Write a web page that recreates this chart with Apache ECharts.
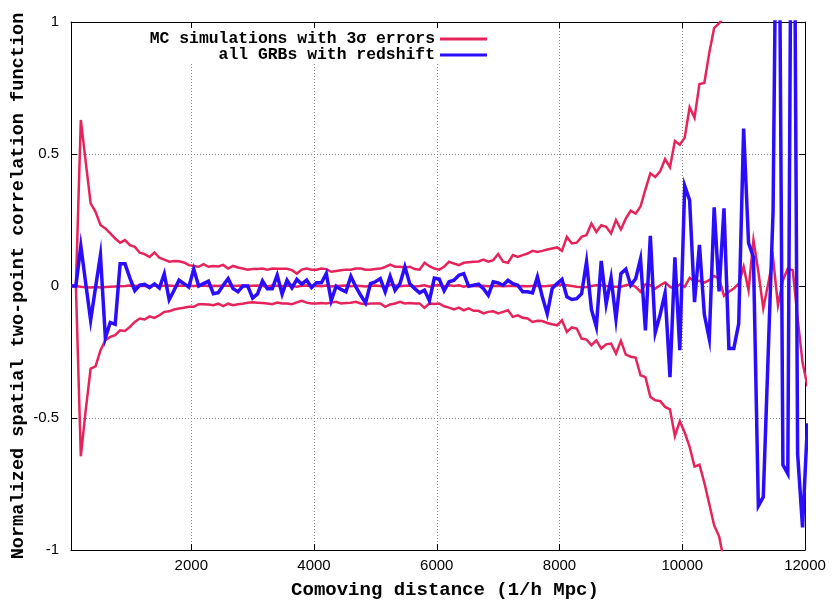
<!DOCTYPE html>
<html>
<head>
<meta charset="utf-8">
<title>two-point correlation function</title>
<script src="https://cdn.jsdelivr.net/npm/echarts@6.0.0/dist/echarts.min.js"></script>
<style>
  html, body { margin: 0; padding: 0; background: #fff; }
  #chart { width: 832px; height: 601px; }
</style>
</head>
<body>
<div id="chart"></div>
<script>
// bins: centre of first bin and bin width (1/h Mpc)
var binStart = 40;
var binWidth = 80;
var xTicks = [2000, 4000, 6000, 8000, 10000, 12000];

// MC simulations: mean, +3 sigma, -3 sigma
var mcMean = [
  0, 0, -0.003, -0.005, -0.006, -0.004, -0.006, -0.004, -0.003, -0.002,
  -0.001, 0, 0.002, 0.001, 0, 0.001, 0, 0.002, 0, 0.001,
  0.002, 0, 0.001, 0.002, 0.001, 0, 0.001, 0.002, 0, 0.001,
  0, 0.002, 0.001, 0, 0.001, 0.002, 0, 0.001, 0.002, 0,
  -0.002, 0.002, 0.001, -0.001, 0.002, 0, -0.003, 0.001, 0.002, 0,
  0.001, -0.001, 0.002, -0.002, 0, 0.001, 0.002, -0.001, 0.001, 0,
  -0.002, 0.001, 0.002, 0, -0.004, 0.005, 0.002, -0.001, 0.001, 0.002,
  -0.002, 0, 0.003, -0.003, 0.002, 0.003, -0.002, 0.003, 0, 0.003,
  -0.003, 0.002, 0, -0.001, 0.001, -0.001, 0, 0.001, -0.001, 0,
  0.001, -0.001, 0, -0.001, 0, 0.001, -0.001, 0, 0.002, 0.003,
  0.006, 0.003, 0, -0.003, -0.005, -0.004, 0, 0.003, 0.003, 0,
  -0.003, -0.003, -0.003, 0.003, 0.006, -0.003, -0.022, 0.006, 0.003, -0.010,
  0.003, 0.013, -0.003, -0.010, 0.006, -0.003, 0.031, 0.016, 0.02, 0.013,
  0.022, 0.038, 0.028, -0.037, -0.022, -0.010, 0.009, 0.073, -0.016, 0.174,
  0.054, -0.085, 0.009, 0.104, -0.073, 0.022, 0.066, 0.060, -0.123, -0.29,
  -0.38
];
var mcUpper = [
  0, 0, 0.629, 0.47, 0.313, 0.281, 0.231, 0.218, 0.199, 0.180,
  0.164, 0.174, 0.155, 0.148, 0.126, 0.121, 0.110, 0.127, 0.107, 0.100,
  0.092, 0.095, 0.094, 0.089, 0.079, 0.076, 0.073, 0.083, 0.073, 0.076,
  0.074, 0.080, 0.066, 0.076, 0.070, 0.066, 0.062, 0.064, 0.064, 0.066,
  0.062, 0.066, 0.065, 0.065, 0.065, 0.060, 0.047, 0.062, 0.066, 0.062,
  0.062, 0.066, 0.064, 0.054, 0.057, 0.060, 0.062, 0.062, 0.066, 0.066,
  0.062, 0.062, 0.064, 0.066, 0.072, 0.081, 0.073, 0.073, 0.070, 0.073,
  0.064, 0.062, 0.088, 0.075, 0.066, 0.062, 0.073, 0.092, 0.085, 0.079,
  0.088, 0.090, 0.092, 0.093, 0.100, 0.092, 0.098, 0.121, 0.092, 0.088,
  0.117, 0.110, 0.117, 0.123, 0.133, 0.129, 0.133, 0.138, 0.142, 0.146,
  0.133, 0.186, 0.161, 0.164, 0.186, 0.193, 0.237, 0.205, 0.230, 0.224,
  0.199, 0.250, 0.214, 0.255, 0.285, 0.274, 0.301, 0.366, 0.427, 0.413,
  0.434, 0.481, 0.450, 0.549, 0.535, 0.562, 0.677, 0.637, 0.765, 0.769,
  0.883, 0.978, 0.995, 1.02, 1.12
];
var mcLower = [
  0, 0, -0.645, -0.47, -0.313, -0.304, -0.244, -0.205, -0.193, -0.186,
  -0.168, -0.170, -0.155, -0.136, -0.123, -0.127, -0.115, -0.121, -0.111, -0.098,
  -0.096, -0.089, -0.085, -0.082, -0.079, -0.079, -0.069, -0.069, -0.070, -0.073,
  -0.067, -0.076, -0.067, -0.073, -0.069, -0.067, -0.063, -0.062, -0.063, -0.064,
  -0.066, -0.069, -0.063, -0.066, -0.066, -0.069, -0.062, -0.056, -0.063, -0.066,
  -0.066, -0.064, -0.066, -0.063, -0.060, -0.066, -0.064, -0.063, -0.060, -0.066,
  -0.069, -0.066, -0.066, -0.066, -0.079, -0.070, -0.066, -0.060, -0.066, -0.064,
  -0.066, -0.066, -0.083, -0.066, -0.068, -0.066, -0.077, -0.082, -0.089, -0.082,
  -0.092, -0.085, -0.094, -0.094, -0.104, -0.098, -0.096, -0.104, -0.098, -0.092,
  -0.117, -0.111, -0.120, -0.123, -0.136, -0.132, -0.133, -0.140, -0.145, -0.149,
  -0.130, -0.174, -0.157, -0.161, -0.199, -0.203, -0.224, -0.206, -0.237, -0.221,
  -0.218, -0.256, -0.208, -0.260, -0.268, -0.271, -0.338, -0.345, -0.420, -0.433,
  -0.436, -0.458, -0.467, -0.569, -0.512, -0.555, -0.609, -0.684, -0.677, -0.745,
  -0.826, -0.907, -0.948, -1.04, -1.12
];
// all GRBs with redshift
var grb = [
  0, 0, 0.152, 0.01, -0.13, -0.006, 0.117, -0.196, -0.138, -0.145,
  0.084, 0.084, 0.03, -0.018, 0.003, 0.006, -0.006, 0.008, -0.008, 0.046,
  -0.052, -0.016, 0.022, 0.009, -0.004, 0.064, 0.0, 0.009, 0.018, -0.029,
  -0.025, 0.003, 0.028, -0.010, -0.022, 0.0, 0.0, -0.046, -0.03, 0.019,
  -0.010, -0.010, 0.041, -0.031, 0.022, -0.007, 0.025, 0.007, 0.022, -0.006,
  0.012, 0.012, 0.047, -0.056, -0.001, -0.013, -0.022, 0.037, -0.003, -0.035,
  -0.064, 0.009, 0.016, 0.028, -0.022, 0.037, -0.016, 0.009, 0.073, 0.009,
  -0.010, -0.026, -0.016, -0.055, 0.030, 0.026, -0.018, 0.016, 0.022, 0.041,
  0.047, -0.001, 0.003, 0.007, -0.010, -0.035, 0.016, 0.012, 0.003, 0.022,
  0.009, 0.003, -0.022, -0.022, -0.026, 0.035, -0.041, -0.105, -0.010, 0.009,
  0.025, -0.041, -0.051, -0.048, -0.029, 0.092, -0.089, -0.155, 0.095, -0.068,
  0.031, -0.125, 0.047, 0.064, 0.003, 0.027, 0.103, -0.168, 0.190, -0.176,
  -0.108, -0.027, -0.345, 0.109, -0.243, 0.379, 0.325, -0.061, 0.156, -0.108,
  -0.200, 0.298, -0.020, 0.294, -0.237, -0.237, -0.142, 0.596, 0.163, 0.109,
  -0.833, -0.799, -0.26, 0.285, 2.2, -0.677, -0.711, 2.6, -0.636, -0.914,
  -0.52
];

var mcName = 'MC simulations with 3σ errors';
var grbName = 'all GRBs with redshift';

var red = '#e6235a';
var blue = '#2a0cff';
var mono = '"Liberation Mono", "DejaVu Sans Mono", monospace';
var sans = '"Liberation Sans", Arial, sans-serif';

function pairs(vals) {
  return vals.map(function (v, i) { return [binStart + binWidth * i, v]; });
}

function lineSeries(name, vals, color, width, z) {
  return {
    name: name,
    type: 'line',
    data: pairs(vals),
    symbol: 'none',
    showSymbol: false,
    xAxisIndex: 0,
    yAxisIndex: 0,
    lineStyle: { color: color, width: width, join: 'miter' },
    itemStyle: { color: color },
    z: z
  };
}

var gridLine = { show: true, lineStyle: { color: '#888', width: 1, type: [1, 2] } };
var border = { show: true, onZero: false, lineStyle: { color: '#000', width: 1 } };
var tick = { show: true, inside: true, length: 6, lineStyle: { color: '#000', width: 1 } };
var legendText = { fontFamily: mono, fontSize: 16.4, fontWeight: 'bold', color: '#000' };

function legendFor(name, top, color) {
  return {
    data: [name], orient: 'vertical', align: 'right', right: 345, top: top,
    icon: 'rect', itemWidth: 47, itemHeight: 3, itemGap: 0, padding: 0,
    selectedMode: false, textStyle: legendText,
    itemStyle: { color: color }
  };
}

var chart = echarts.init(document.getElementById('chart'), null, { renderer: 'canvas' });
chart.setOption({
  animation: false,
  backgroundColor: '#fff',
  grid: { left: 71, right: 27, top: 22, bottom: 51, containLabel: false, outerBoundsMode: 'none' },
  legend: [legendFor(mcName, 31, red), legendFor(grbName, 47, blue)],
  // opaque key box (hides grid lines behind the legend)
  graphic: [{
    type: 'rect', left: 146, top: 28, z: 1,
    shape: { width: 346, height: 35 },
    style: { fill: '#fff' }
  }],
  xAxis: [
    {
      type: 'value', min: 40, max: 12000, position: 'bottom',
      name: 'Comoving distance (1/h Mpc)', nameLocation: 'middle', nameGap: 31,
      nameMoveOverlap: false,
      nameTextStyle: { fontFamily: mono, fontSize: 19, fontWeight: 'bold', color: '#000', padding: [0, 0, 0, 14] },
      axisLine: border,
      axisTick: Object.assign({ customValues: xTicks }, tick),
      axisLabel: {
        customValues: xTicks, fontFamily: sans, fontSize: 15, color: '#000', margin: 8,
        formatter: function (v) { return String(v); }
      },
      splitLine: gridLine
    },
    {
      type: 'value', min: 40, max: 12000, position: 'top',
      axisLine: border,
      axisTick: Object.assign({ customValues: xTicks }, tick),
      axisLabel: { show: false },
      splitLine: { show: false }
    }
  ],
  yAxis: [
    {
      type: 'value', min: -1, max: 1, interval: 0.5, position: 'left',
      name: 'Normalized spatial two-point correlation function',
      nameLocation: 'middle', nameGap: 43, nameRotate: 90,
      nameMoveOverlap: false,
      nameTextStyle: { fontFamily: mono, fontSize: 18.6, fontWeight: 'bold', color: '#000' },
      axisLine: border,
      axisTick: tick,
      axisLabel: { fontFamily: sans, fontSize: 15, color: '#000', margin: 12 },
      splitLine: gridLine
    },
    {
      type: 'value', min: -1, max: 1, interval: 0.5, position: 'right',
      axisLine: border,
      axisTick: tick,
      axisLabel: { show: false },
      splitLine: { show: false }
    }
  ],
  series: [
    lineSeries(mcName, mcMean, red, 2.5, 2),
    lineSeries(mcName, mcUpper, red, 2.5, 2),
    lineSeries(mcName, mcLower, red, 2.5, 2),
    lineSeries(grbName, grb, blue, 3.5, 3)
  ]
});
</script>
</body>
</html>
